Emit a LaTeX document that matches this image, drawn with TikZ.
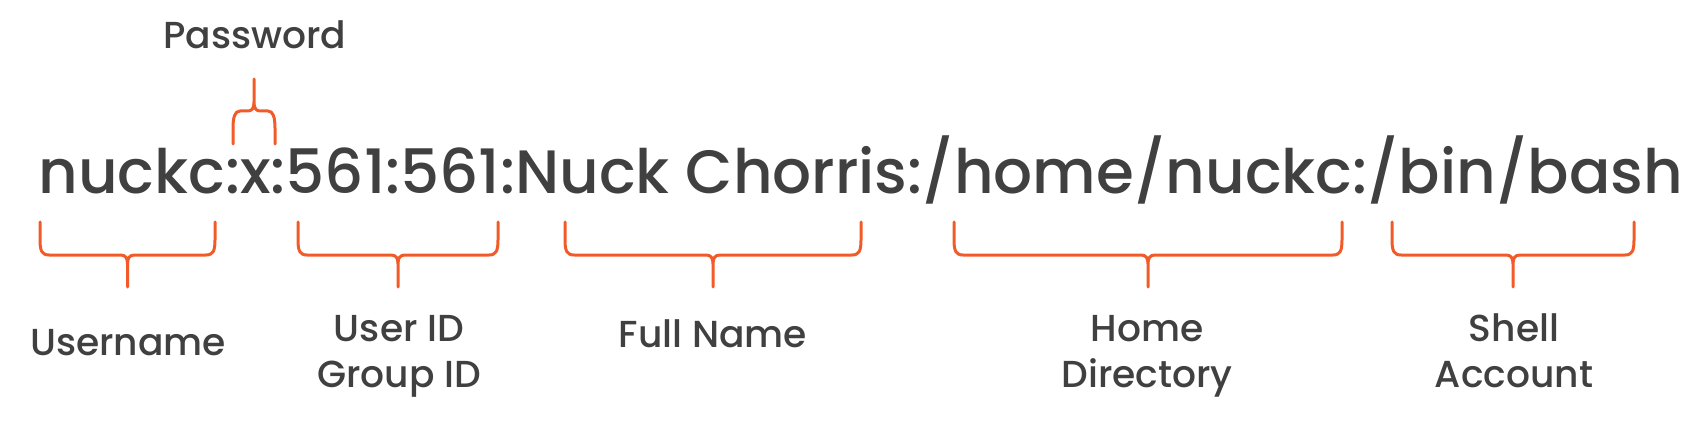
\documentclass[tikz,border=0pt]{standalone}
\usepackage{fontspec}
\setmainfont{Poppins}[BoldFont={Poppins Medium}]
\usepackage{xcolor}
\usepackage{tikz}
\usetikzlibrary{positioning}

\definecolor{inkgrey}{HTML}{404040}
\definecolor{brorange}{HTML}{F15A29}

% brace under a field: left x, right x
\newcommand{\lowbrace}[2]{%
  \pgfmathsetmacro{\brmid}{(#1+#2)/2}
  \draw[brace] (#1,222) -- (#1,240) .. controls (#1,251) and (#1+2,255) .. (#1+9,255)
    -- (\brmid-7,255) .. controls (\brmid-2,255) and (\brmid,258) .. (\brmid,264) -- (\brmid,287)
    (\brmid,264) .. controls (\brmid,258) and (\brmid+2,255) .. (\brmid+7,255)
    -- (#2-9,255) .. controls (#2-2,255) and (#2,251) .. (#2,240) -- (#2,222);}

\begin{document}
\begin{tikzpicture}[
    x=0.5pt, y=-0.5pt,
    entry/.style={inner sep=0pt, text=inkgrey, font=\fontsize{30.6}{36}\selectfont\bfseries},
    field/.style={inner sep=0pt, text=inkgrey, align=center, font=\fontsize{18.8}{23}\selectfont\bfseries},
    brace/.style={draw=brorange, line width=1.5pt, line cap=round, line join=round}
]
\useasboundingbox (0,0) rectangle (1699,444);

\node[entry, anchor=base west] (line) at (38,194) {nuckc:x:561:561:Nuck Chorris:/home/nuckc:/bin/bash};

% password brace above the x
\draw[brace] (233,144) -- (233,128) .. controls (233,117) and (235,111) .. (240,111)
  -- (248,111) .. controls (252,111) and (254,108) .. (254,102) -- (254,79)
  (254,102) .. controls (254,108) and (256,111) .. (260,111)
  -- (268,111) .. controls (273,111) and (275,117) .. (275,128) -- (275,144);
\node[field, anchor=base] (pass) at (255,49) {Password};

% braces under the fields
\lowbrace{40}{215}
\lowbrace{298}{498}
\lowbrace{565}{861}
\lowbrace{954}{1342}
\lowbrace{1392}{1634}

\node[field, anchor=base] (user) at (128,355) {Username};
\node[field, anchor=base] (ids) at (399,387) {User ID\\Group ID};
\node[field, anchor=base] (full) at (713,347) {Full Name};
\node[field, anchor=base] (home) at (1147,387) {Home\\Directory};
\node[field, anchor=base] (shell) at (1514,387) {Shell\\Account};
\end{tikzpicture}
\end{document}
